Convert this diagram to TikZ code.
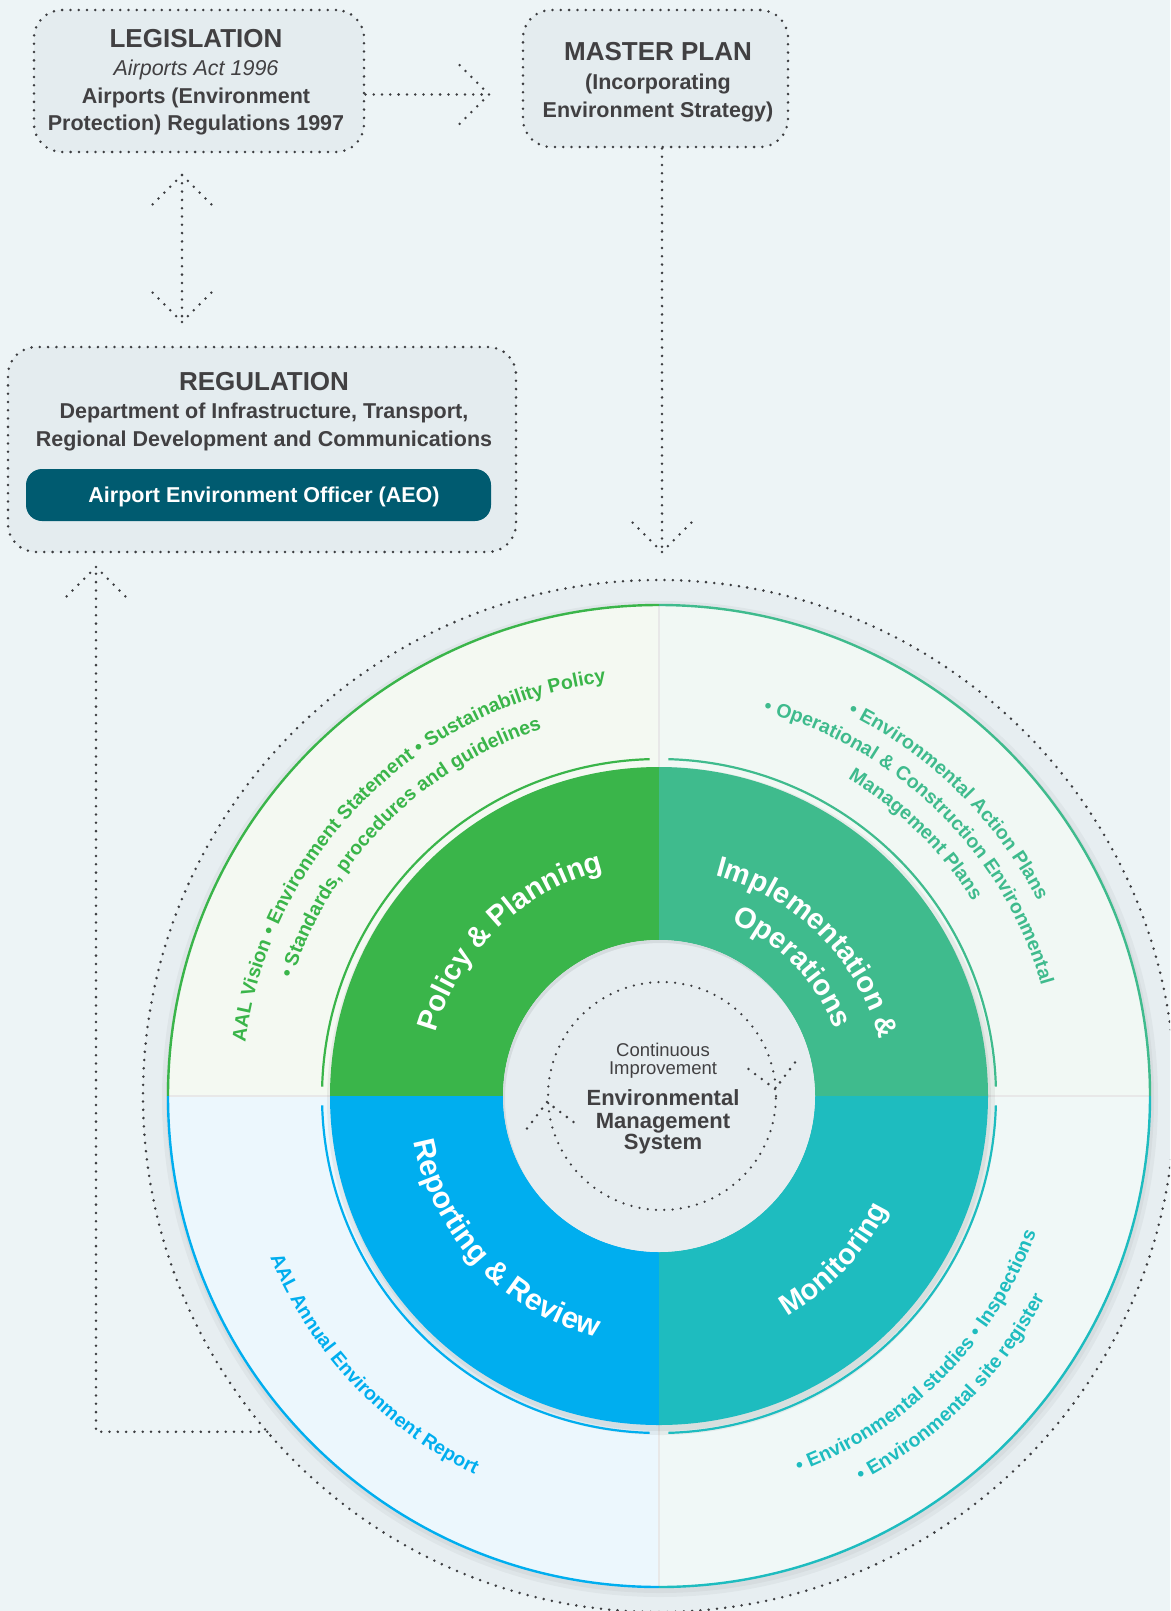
\documentclass[tikz,border=0pt]{standalone}
\usepackage{fontspec}
\setmainfont{Liberation Sans}
\usepackage{xcolor}
\usetikzlibrary{positioning,calc,decorations.text}
\definecolor{embg}{HTML}{EDF4F6}
\definecolor{emboxd}{HTML}{E4ECEF}
\definecolor{emdot}{HTML}{3C3D40}
\definecolor{emtext}{HTML}{414042}
\definecolor{emaeo}{HTML}{005B70}
\definecolor{emplan}{HTML}{3AB54A}
\definecolor{emimpl}{HTML}{3FBB8D}
\definecolor{emrepo}{HTML}{00AEEF}
\definecolor{emmoni}{HTML}{1EBCBF}
\definecolor{emplanl}{HTML}{F4F9F2}
\definecolor{emimpll}{HTML}{F1F8F4}
\definecolor{emrepol}{HTML}{ECF7FD}
\definecolor{emmonil}{HTML}{F0F8F7}
\definecolor{emcore}{HTML}{E6EDF0}
\definecolor{emhalo}{HTML}{E7EEF1}
\newcommand{\fsz}[1]{\fontsize{#1}{#1}\selectfont}
\newcommand{\ringfont}{\fsz{29}\bfseries}
\newcommand{\ringfontw}{\fsz{30}\bfseries}
\newcommand{\notefont}{\fsz{19.5}\bfseries}
\newcommand{\annulus}[5]{% fill, start, end, inner r, outer r
  \fill[#1] ($(hub)+(#2:#5)$) arc[start angle=#2, end angle=#3, radius=#5]
    -- ($(hub)+(#3:#4)$) arc[start angle=#3, end angle=#2, radius=#4] -- cycle;}
\tikzset{
  dotline/.style  = {draw=emdot, line width=2.8pt, line cap=round,
                     dash pattern=on 0pt off 8.3pt},
  planbox/.style  = {dotline, fill=emboxd, rounded corners=28pt, inner sep=0pt},
  aeobox/.style   = {fill=emaeo, rounded corners=16pt, inner sep=0pt},
  boxline/.style  = {anchor=base, inner sep=0pt, text=emtext,
                     font=\fsz{21.5}\bfseries},
  boxtitle/.style = {boxline, font=\fsz{26}\bfseries},
  coretxt/.style  = {anchor=base, inner sep=0pt, text=emtext, font=\fsz{18.5}},
  corehead/.style = {coretxt, font=\fsz{22}\bfseries},
  core/.style     = {circle, fill=emcore, minimum size=312pt, inner sep=0pt},
  divider/.style  = {draw=black!9, line width=1.2pt},
  ringtext/.style = {decorate, decoration={text along path, text align=center, #1}},
  dothead/.pic    = {\draw[dotline] (0,0) -- (-34,34) (0,0) -- (-34,-34);},
}

\begin{document}
\begin{tikzpicture}[x=1pt, y=1pt]

  % ---------- canvas ---------------------------------------------------
  \useasboundingbox (0,0) rectangle (1170,-1611);
  \clip (0,0) rectangle (1170,-1611);
  \fill[embg] (0,0) rectangle (1170,-1611);
  \coordinate (hub) at (659,-1096);

  % ---------- framework boxes ------------------------------------------
  \node[planbox, minimum width=330, minimum height=142] (legis) at (199,-81) {};
  \node[boxtitle] (legis-1) at (196,-47.4) {LEGISLATION};
  \node[boxline, font=\fsz{21.5}\itshape] (legis-2) at (196,-75.7) {Airports Act 1996};
  \node[boxline] (legis-3) at (196,-103.5) {Airports (Environment};
  \node[boxline] (legis-4) at (196,-130) {Protection) Regulations 1997};

  \node[planbox, minimum width=265, minimum height=137] (master) at (655.5,-78.5) {};
  \node[boxtitle] (master-1) at (658,-60.8) {MASTER PLAN};
  \node[boxline] (master-2) at (658,-89.9) {(Incorporating};
  \node[boxline] (master-3) at (658,-117.7) {Environment Strategy)};

  \node[planbox, minimum width=508, minimum height=205] (regul) at (262,-449.5) {};
  \node[boxtitle] (regul-1) at (264,-390.5) {REGULATION};
  \node[boxline] (regul-2) at (264,-418.7) {Department of Infrastructure, Transport,};
  \node[boxline] (regul-3) at (264,-446.5) {Regional Development and Communications};
  \node[aeobox, minimum width=465, minimum height=52] (aeo) at (258.5,-495) {};
  \node[boxline, text=white] (aeo-1) at (264,-502.7) {Airport Environment Officer (AEO)};

  % ---------- EMS wheel: halo and outer ring ----------------------------
  \fill[emhalo] (hub) circle[radius=516];
  \draw[dotline] (hub) circle[radius=516];
  \fill[black, opacity=0.035] ($(hub)+(1,-3)$) circle[radius=498];
  \fill[black, opacity=0.035] ($(hub)+(1,-3)$) circle[radius=494];

  \fill[emplanl] (hub) -- ($(hub)+(90:491)$)  arc[start angle=90,  end angle=180, radius=491] -- cycle;
  \fill[emimpll] (hub) -- ($(hub)+(0:491)$)   arc[start angle=0,   end angle=90,  radius=491] -- cycle;
  \fill[emrepol] (hub) -- ($(hub)+(180:491)$) arc[start angle=180, end angle=270, radius=491] -- cycle;
  \fill[emmonil] (hub) -- ($(hub)+(270:491)$) arc[start angle=270, end angle=360, radius=491] -- cycle;
  \draw[divider] ($(hub)+(0,491)$) -- ($(hub)+(0,-491)$);
  \draw[divider] ($(hub)+(-491,0)$) -- ($(hub)+(491,0)$);
  \draw[emplan, line width=2.4pt] ($(hub)+(90:491)$)  arc[start angle=90,  end angle=180, radius=491];
  \draw[emimpl, line width=2.4pt] ($(hub)+(0:491)$)   arc[start angle=0,   end angle=90,  radius=491];
  \draw[emrepo, line width=2.4pt] ($(hub)+(180:491)$) arc[start angle=180, end angle=270, radius=491];
  \draw[emmoni, line width=2.4pt] ($(hub)+(270:491)$) arc[start angle=270, end angle=360, radius=491];

  % ---------- colored ring ---------------------------------------------
  \fill[black, opacity=0.05] ($(hub)+(2,-5)$) circle[radius=334];
  \fill[black, opacity=0.05] ($(hub)+(2,-5)$) circle[radius=330];
  \draw[emplan, line width=2.2pt] ($(hub)+(91.6:337)$)  arc[start angle=91.6,  end angle=178.4, radius=337];
  \draw[emimpl, line width=2.2pt] ($(hub)+(1.6:337)$)   arc[start angle=1.6,   end angle=88.4,  radius=337];
  \draw[emrepo, line width=2.2pt] ($(hub)+(181.6:337)$) arc[start angle=181.6, end angle=268.4, radius=337];
  \draw[emmoni, line width=2.2pt] ($(hub)+(271.6:337)$) arc[start angle=271.6, end angle=358.4, radius=337];
  \annulus{emplan}{90}{180}{156}{329}
  \annulus{emimpl}{0}{90}{156}{329}
  \annulus{emrepo}{180}{270}{156}{329}
  \annulus{emmoni}{270}{360}{156}{329}

  % ---------- core ------------------------------------------------------
  \node[core] (ems) at (hub) {};
  \begin{scope}
    \clip (hub) circle[radius=156];
    \draw[black, opacity=0.07, line width=8pt] ($(hub)+(2,-3)$) circle[radius=160];
  \end{scope}

  % ---------- ring titles ----------------------------------------------
  \path[ringtext={text={|\ringfont|Policy {\&} Planning}, text color=white}]
    ($(hub)+(179:232)$) arc[start angle=179, end angle=89, radius=232];
  \path[ringtext={text={|\ringfont|Implementation {\&}}, text color=white}]
    ($(hub)+(90:227)$) arc[start angle=90, end angle=0, radius=227];
  \path[ringtext={text={|\ringfont|Operations}, text color=white}]
    ($(hub)+(89:188)$) arc[start angle=89, end angle=-1, radius=188];
  \path[ringtext={text={|\ringfontw|Reporting {\&} Review}, text color=white}]
    ($(hub)+(178:249)$) arc[start angle=178, end angle=268, radius=249];
  \path[ringtext={text={|\ringfont|Monitoring}, text color=white}]
    ($(hub)+(272:255)$) arc[start angle=272, end angle=362, radius=255];

  % ---------- outer ring notes -----------------------------------------
  \path[ringtext={text={|\notefont|AAL Vision • Environment Statement • Sustainability Policy}, text color=emplan}]
    ($(hub)+(180:417)$) arc[start angle=180, end angle=90, radius=417];
  \path[ringtext={text={|\notefont|• Standards, procedures and guidelines}, text color=emplan}]
    ($(hub)+(180:385)$) arc[start angle=180, end angle=90, radius=385];
  \path[ringtext={text={|\notefont|• Environmental Action Plans}, text color=emimpl}]
    ($(hub)+(90.5:426)$) arc[start angle=90.5, end angle=0.5, radius=426];
  \path[ringtext={text={|\notefont|• Operational {\&} Construction Environmental}, text color=emimpl}]
    ($(hub)+(90.5:398)$) arc[start angle=90.5, end angle=0.5, radius=398];
  \path[ringtext={text={|\notefont|Management Plans}, text color=emimpl}]
    ($(hub)+(90.5:369)$) arc[start angle=90.5, end angle=0.5, radius=369];
  \path[ringtext={text={|\notefont|AAL Annual Environment Report}, text color=emrepo}]
    ($(hub)+(178.3:421)$) arc[start angle=178.3, end angle=268.3, radius=421];
  \path[ringtext={text={|\notefont|• Environmental studies • Inspections}, text color=emmoni}]
    ($(hub)+(270.2:401)$) arc[start angle=270.2, end angle=360.2, radius=401];
  \path[ringtext={text={|\notefont|• Environmental site register}, text color=emmoni}]
    ($(hub)+(270:435)$) arc[start angle=270, end angle=360, radius=435];

  % ---------- core texts and cycle -------------------------------------
  \node[coretxt] (ci-1) at (663,-1056.6) {Continuous};
  \node[coretxt] (ci-2) at (663,-1074) {Improvement};
  \node[corehead] (ems-1) at (663,-1105.5) {Environmental};
  \node[corehead] (ems-2) at (663,-1128) {Management};
  \node[corehead] (ems-3) at (663,-1149) {System};
  \coordinate (cyc) at (662,-1096);
  \coordinate (cyctipr) at (775,-1089);
  \coordinate (cyctipl) at (547,-1102);
  \draw[dotline, line width=2.5pt] (cyc) circle[radius=114];
  \pic[rotate=-82, scale=0.8] at (cyctipr) {dothead};
  \pic[rotate=98, scale=0.8] at (cyctipl) {dothead};

  % ---------- connectors -----------------------------------------------
  \coordinate (legtip)  at (489,-94.5);
  \coordinate (uptip)   at (182,-175);
  \coordinate (dntip)   at (182,-322);
  \coordinate (ringtip) at (662,-552);
  \coordinate (fbtip)   at (96,-567);
  \coordinate (fbstart) at ($(hub)+(220.6:516)$);

  \draw[dotline] (legis.east |- legtip) -- (legtip);
  \pic at (legtip) {dothead};
  \draw[dotline] (uptip) -- (dntip);
  \pic[rotate=90] at (uptip) {dothead};
  \pic[rotate=-90] at (dntip) {dothead};
  \draw[dotline] (ringtip |- master.south) -- (ringtip);
  \pic[rotate=-90] at (ringtip) {dothead};
  \draw[dotline] (fbstart) -| (fbtip);
  \pic[rotate=90] at (fbtip) {dothead};

\end{tikzpicture}
\end{document}
